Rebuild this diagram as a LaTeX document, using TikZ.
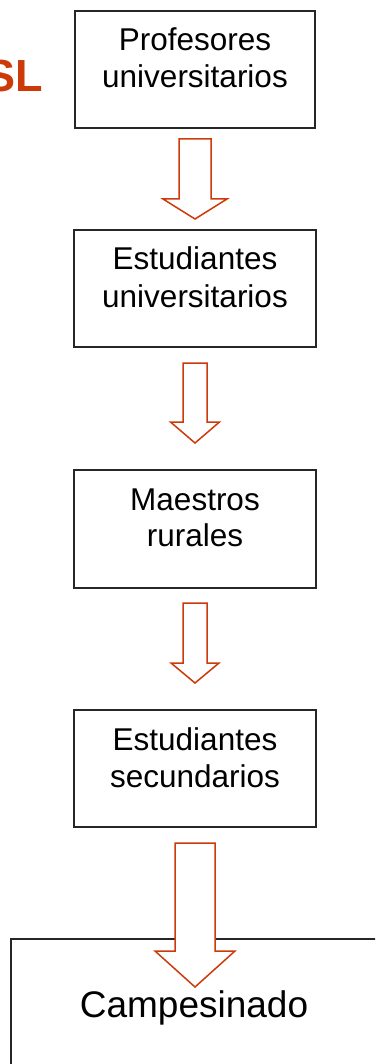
\documentclass[tikz,border=0pt]{standalone}
\usepackage{fontspec}
\setmainfont{Liberation Sans}
\definecolor{arrowred}{RGB}{204,58,10}
\tikzset{
  box/.style={draw=black!85, line width=1.5pt, fill=white, rectangle, inner sep=0pt},
  line/.style={font=\fontsize{31.5}{37}\selectfont, anchor=base, inner sep=0pt, text=black},
  blockarrow/.style={draw=arrowred, line width=1.5pt, fill=white, line join=miter},
}
% \barrow{cx}{top}{head}{tip}{shaft half}{head half}
\newcommand\barrow[6]{%
  \draw[blockarrow] (#1-#5,#2) -- (#1+#5,#2) -- (#1+#5,#3) -- (#1+#6,#3) -- (#1,#4)
    -- (#1-#6,#3) -- (#1-#5,#3) -- cycle;}
\begin{document}
\begin{tikzpicture}[x=1pt,y=-1pt]
\useasboundingbox (0,0) rectangle (375,1064);
\clip (0,0) rectangle (375,1064);
% SL label (clipped at left edge, as in the reference)
\node[anchor=base east, inner sep=0pt, text=arrowred, font=\fontsize{45}{54}\selectfont\bfseries] (sl) at (43,92) {SL};
% boxes
\node[box, minimum width=240pt, minimum height=117pt] (b1) at (195,69.5) {};
\node[box, minimum width=242pt, minimum height=117pt] (b2) at (195,288.5) {};
\node[box, minimum width=242pt, minimum height=118pt] (b3) at (195,529) {};
\node[box, minimum width=242pt, minimum height=117pt] (b4) at (195,768.5) {};
\draw[box] (11,1080) -- (11,939) coordinate (c1) -- (390,939);
\coordinate (b5) at (195,939);
% texts
\node[line] (t1a) at (195,51) {Profesores};
\node[line] (t1b) at (195,88) {universitarios};
\node[line] (t2a) at (195,270) {Estudiantes};
\node[line] (t2b) at (195,307) {universitarios};
\node[line] (t3a) at (195,510) {Maestros};
\node[line] (t3b) at (195,546) {rurales};
\node[line] (t4a) at (195,750) {Estudiantes};
\node[line] (t4b) at (195,787) {secundarios};
% block arrows
\barrow{195}{139}{199}{219}{16}{32}
\barrow{195}{363}{422}{443}{12}{24.5}
\barrow{195}{603}{663}{683}{12}{24}
\barrow{195}{843}{951}{987}{20}{40}
\node[line, font=\fontsize{37}{44}\selectfont] (t5) at (194,1017) {Campesinado};
\end{tikzpicture}
\end{document}
